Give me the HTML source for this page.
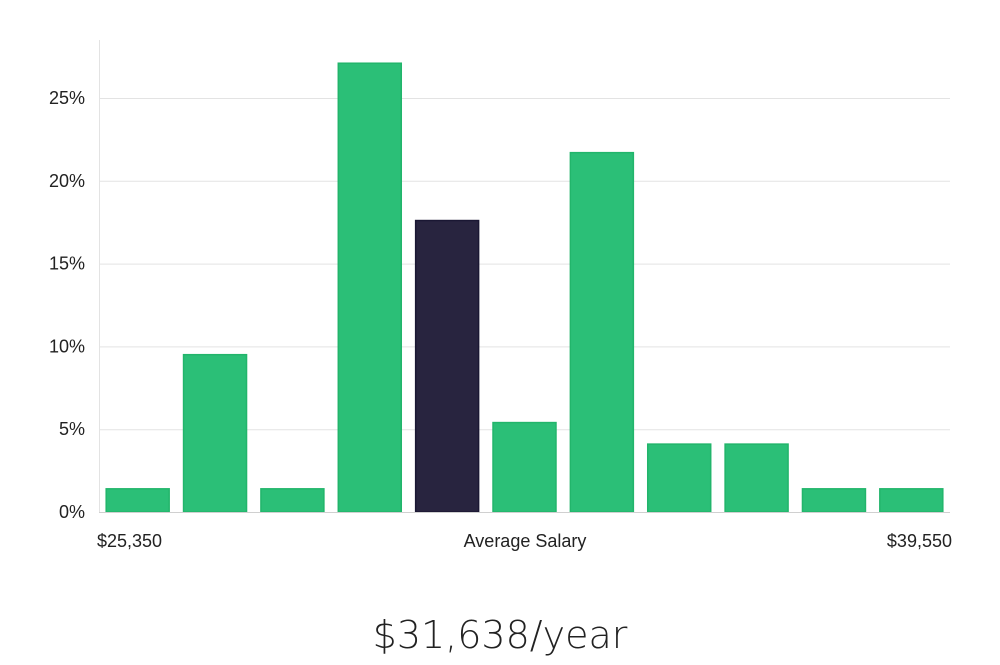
<!DOCTYPE html>
<html><head><meta charset="utf-8"><style>
body{margin:0;background:#fff;width:1000px;height:660px;overflow:hidden;font-family:"Liberation Sans","DejaVu Sans",sans-serif;}
</style></head><body>
<svg id="chart" width="1000" height="660" xmlns="http://www.w3.org/2000/svg">
<g id="grid"></g>
<g id="bars"></g>
<g id="yticks"></g>
<line x1="99.5" y1="40" x2="99.5" y2="512" stroke="#e3e3e3"/>
<line x1="99" y1="512.5" x2="950" y2="512.5" stroke="#d0d0d0"/>
<text x="97" y="547" font-size="18" fill="#222">$25,350</text>
<text x="525" y="547" font-size="18" fill="#222" text-anchor="middle">Average Salary</text>
<text x="952" y="547" font-size="18" fill="#222" text-anchor="end">$39,550</text>
<text x="500" y="648" font-size="38" fill="#222" text-anchor="middle" font-family="DejaVu Sans" font-weight="200" style="font-weight:200">$31,638/year</text>
</svg>
<script>
const categories=["b1","b2","b3","b4","b5","b6","b7","b8","b9","b10","b11"];
const values=[1.4,9.5,1.4,27.1,17.6,5.4,21.7,4.1,4.1,1.4,1.4];
const highlightIndex=4;
const yTicks=[0,5,10,15,20,25];
const yTickLabels=["0%","5%","10%","15%","20%","25%"];
const NS="http://www.w3.org/2000/svg";
const x0=99,x1=950,y0=512,yPerUnit=(512-98)/25;
const y=v=>y0-v*yPerUnit;
const step=(x1-x0)/categories.length,bw=step*0.814,off=(step-bw)/2;
const xb=i=>x0+i*step+off;
const grid=document.getElementById('grid'),yt=document.getElementById('yticks'),bars=document.getElementById('bars');
yTicks.forEach((t,i)=>{
 if(t>0){const l=document.createElementNS(NS,'line');
 
 
 l.setAttribute('x1',x0);l.setAttribute('x2',x1);l.setAttribute('y1',y(t)+0.5);l.setAttribute('y2',y(t)+0.5);l.setAttribute('stroke','#e3e3e3');grid.appendChild(l);}
 const tx=document.createElementNS(NS,'text');
 
 
 tx.setAttribute('x',85);tx.setAttribute('y',y(t)+6);tx.setAttribute('text-anchor','end');tx.setAttribute('font-size','18');tx.setAttribute('fill','#222');tx.textContent=yTickLabels[i];yt.appendChild(tx);
});
values.forEach((v,i)=>{
 const r=document.createElementNS(NS,'rect');
 
 
 const hi=i===highlightIndex;
 r.setAttribute('x',xb(i));r.setAttribute('y',y(v));r.setAttribute('width',bw);r.setAttribute('height',y0-y(v));
 r.setAttribute('fill',hi?'#28243f':'#2bbf77');r.setAttribute('stroke',hi?'#1a1733':'#22b56b');r.setAttribute('stroke-width','1.5');
 bars.appendChild(r);
});
</script>
</body></html>
